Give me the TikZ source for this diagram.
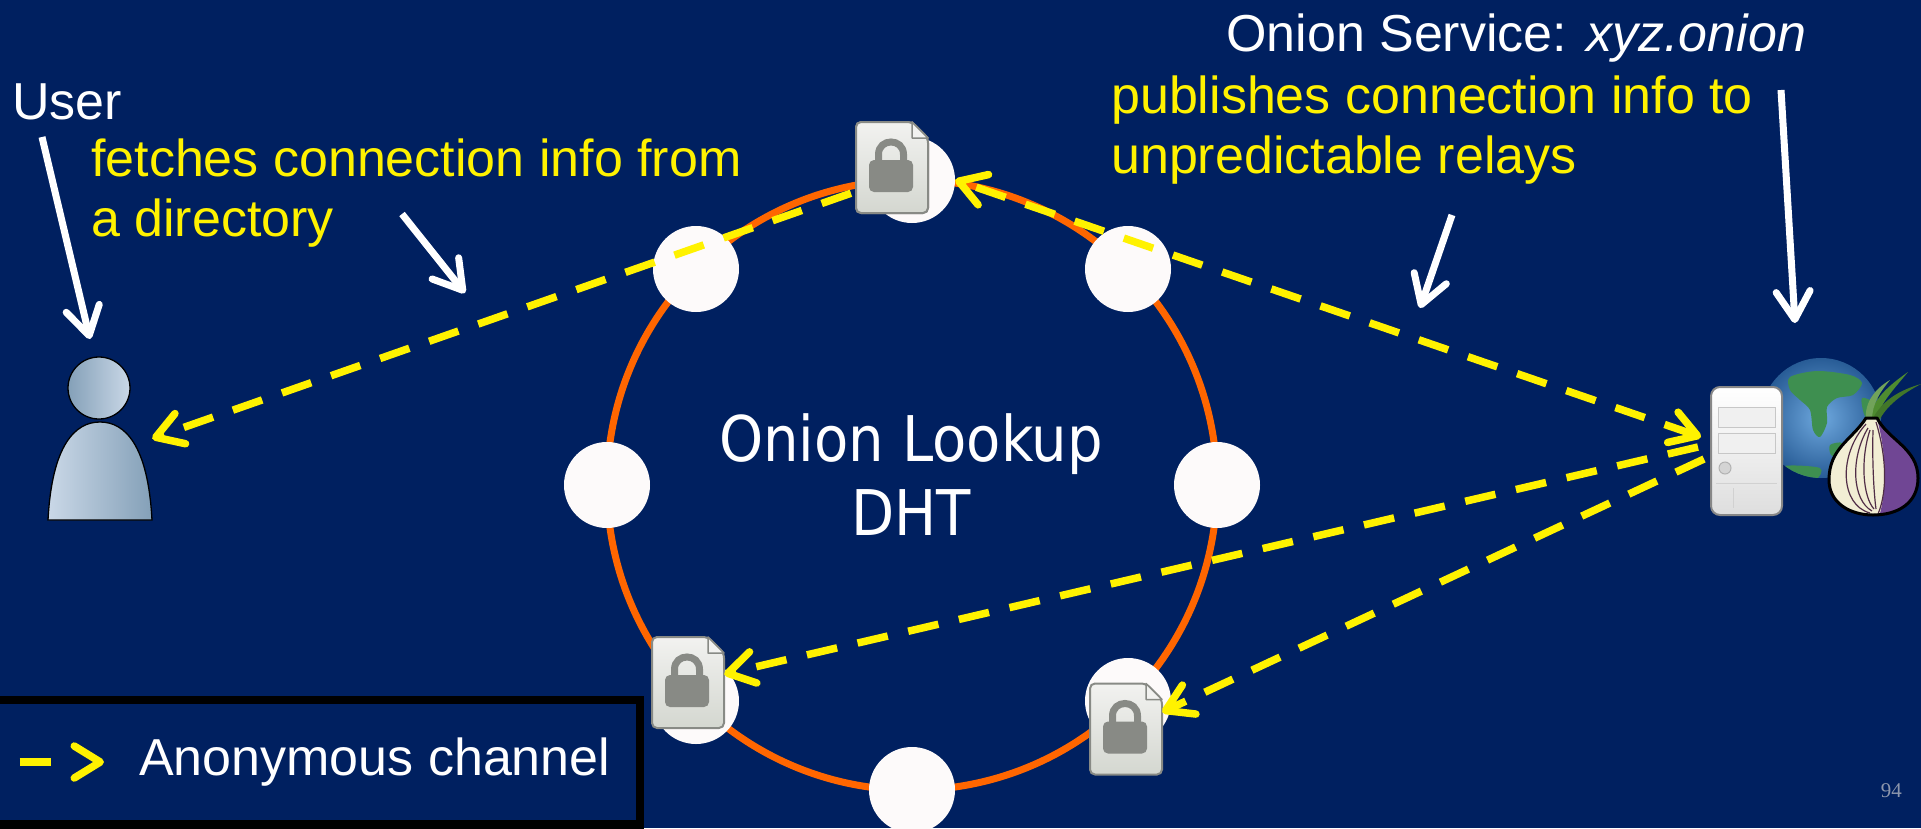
\documentclass[tikz,border=0pt]{standalone}
\usepackage{fontspec}
\setmainfont{Liberation Sans}
\newfontfamily\dhtfont[FakeStretch=0.89]{DejaVu Sans}
\newfontfamily\pagefont{Liberation Serif}
\usetikzlibrary{arrows.meta,calc}

\definecolor{slidebg}{RGB}{0,32,96}
\definecolor{ringorange}{RGB}{255,102,0}
\definecolor{relaywhite}{RGB}{253,250,250}
\definecolor{lockgray}{RGB}{136,138,133}
\definecolor{doclight}{RGB}{242,242,240}
\definecolor{docdark}{RGB}{212,215,208}
\definecolor{userlight}{RGB}{202,216,231}
\definecolor{userdark}{RGB}{132,160,184}
\definecolor{srvedge}{RGB}{135,135,135}
\definecolor{globeinner}{RGB}{110,168,222}
\definecolor{globeouter}{RGB}{40,92,150}
\definecolor{globegreen}{RGB}{62,143,80}
\definecolor{onioncream}{RGB}{242,238,212}
\definecolor{onionpurple}{RGB}{112,70,148}
\definecolor{onionline}{RGB}{80,45,70}
\definecolor{leafgreen}{RGB}{78,140,48}
\definecolor{pagegray}{RGB}{140,150,172}

\tikzset{
  relay/.style={circle, fill=relaywhite, minimum size=86pt, inner sep=0pt},
  >={Straight Barb[length=26pt,width=32pt,round]},
  chan/.style={yellow, line width=7.5pt, dash pattern=on 31pt off 21pt},
  pointer/.style={white, line width=7pt, -{Straight Barb[length=28pt,width=34pt,round]}},
  slidetext/.style={font=\fontsize{52}{60}\selectfont, inner sep=0pt, anchor=base west, text=white},
  notetext/.style={slidetext, text=yellow},
  dhttext/.style={font=\dhtfont\fontsize{63}{74}\selectfont, inner sep=0pt, anchor=base, text=white},
  lockdoc/.pic={
    \node[minimum width=72pt, minimum height=91pt, inner sep=0pt] (-box) {};
    % page with a folded top-right corner
    \draw[lockgray, line width=2pt, rounded corners=5pt, top color=doclight, bottom color=docdark]
      (-36,-45.5) -- (20,-45.5) -- (36,-29.5) -- (36,45.5) -- (-36,45.5) -- cycle;
    \draw[lockgray, line width=1.5pt, fill=doclight, line join=round]
      (20,-45.5) -- (20,-29.5) -- (36,-29.5) -- cycle;
    % padlock
    \draw[lockgray, line width=7pt]
      (-13.5,-5) -- (-13.5,-13) .. controls (-13.5,-29.7) and (11.5,-29.7) .. (11.5,-13) -- (11.5,-5);
    \fill[lockgray, rounded corners=5pt] (-23,-7.5) rectangle (21,24.5);
  }
}

\begin{document}
\begin{tikzpicture}[x=1pt,y=-1pt]
\useasboundingbox (0,0) rectangle (1921,828);
\fill[slidebg] (0,0) rectangle (1921,828);

% DHT ring with its relays
\coordinate (ringc) at (912,485);
\draw[ringorange, line width=7pt] (ringc) circle[radius=305pt];
\node[relay] (top) at ($(ringc)+(0,-305)$) {};
\node[relay] (ul)  at ($(ringc)+(-216,-216)$) {};
\node[relay] (ur)  at ($(ringc)+(216,-216)$) {};
\node[relay] (lft) at ($(ringc)+(-305,0)$) {};
\node[relay] (rgt) at ($(ringc)+(305,0)$) {};
\node[relay] (ll)  at ($(ringc)+(-216,216)$) {};
\node[relay] (lr)  at ($(ringc)+(216,216)$) {};
\node[relay] (bot) at ($(ringc)+(0,305)$) {};

\node[dhttext] (dht1) at (911,461) {Onion Lookup};
\node[dhttext] (dht2) at (911,535) {DHT};

% user
\node[minimum width=104pt, minimum height=163pt, inner sep=0pt] (user) at (100,438.5) {};
\draw[black, line width=1.3pt, left color=userlight, right color=userdark]
  (48,520) .. controls (52,445) and (75,422) .. (100,422)
  .. controls (125,422) and (148,445) .. (152,520) -- cycle;
\draw[black, line width=1.3pt, left color=userdark, right color=userlight]
  (99,388) circle[radius=31pt];

% onion service: globe, server, onion
\node[circle, minimum size=120pt, inner sep=0pt, inner color=globeinner, outer color=globeouter] (globe) at (1821,418) {};
\begin{scope}
  \clip (globe.center) circle[radius=60pt];
  \fill[globegreen] plot[smooth cycle] coordinates {(1790,377) (1817,371) (1850,375) (1862,383) (1853,395) (1837,398) (1827,407) (1827,423) (1820,437) (1813,430) (1810,410) (1800,400) (1790,390)};
  \fill[globegreen] plot[smooth cycle] coordinates {(1862,398) (1876,404) (1880,420) (1872,428) (1864,414)};
  \fill[globegreen] plot[smooth cycle] coordinates {(1785,466) (1820,468) (1815,480) (1790,478)};
  \fill[globegreen] plot[smooth cycle] coordinates {(1830,445) (1842,443) (1840,456) (1831,455)};
\end{scope}

\node[draw=srvedge, line width=2pt, rounded corners=9pt, top color=white, bottom color=black!13,
      minimum width=71pt, minimum height=128pt, inner sep=0pt] (server) at (1746.5,451) {};
\draw[black!22, fill=black!6, line width=1pt] (1718,407) rectangle (1775,427);
\draw[black!22, fill=black!6, line width=1pt] (1718,433) rectangle (1775,453);
\draw[black!30, fill=black!17, line width=1pt] (1725,468) circle[radius=6pt];
\draw[black!18, line width=1pt] (1716,483) -- (1777,483);
\draw[black!18, line width=1pt] (1733,488) -- (1733,508);

% onion
\fill[leafgreen] (1869,420) .. controls (1872,400) and (1888,386) .. (1908,372)
  .. controls (1893,390) and (1880,404) .. (1876,420) -- cycle;
\fill[leafgreen!85!black] (1872,420) .. controls (1882,400) and (1900,390) .. (1921,384)
  .. controls (1902,394) and (1886,406) .. (1879,421) -- cycle;
\fill[leafgreen!80!white] (1866,420) .. controls (1864,402) and (1876,388) .. (1890,380)
  .. controls (1880,392) and (1872,404) .. (1872,420) -- cycle;
\path[fill=onioncream] (1866,418) .. controls (1852,440) and (1829,448) .. (1829,480)
  .. controls (1829,503) and (1850,515) .. (1873,515)
  .. controls (1898,515) and (1918,503) .. (1918,478)
  .. controls (1918,448) and (1888,440) .. (1877,418) -- cycle;
\begin{scope}
  \clip (1866,418) .. controls (1852,440) and (1829,448) .. (1829,480)
    .. controls (1829,503) and (1850,515) .. (1873,515)
    .. controls (1898,515) and (1918,503) .. (1918,478)
    .. controls (1918,448) and (1888,440) .. (1877,418) -- cycle;
  \fill[onionpurple] (1876,415) .. controls (1886,450) and (1888,490) .. (1878,520) -- (1925,520) -- (1925,415) -- cycle;
  \draw[onionline, line width=1.2pt] (1866,424) .. controls (1838,455) and (1840,505) .. (1870,513);
  \draw[onionline, line width=1.2pt] (1868,428) .. controls (1850,458) and (1852,500) .. (1872,511);
  \draw[onionline, line width=1.2pt] (1870,430) .. controls (1860,460) and (1863,497) .. (1874,509);
  \draw[onionline, line width=1.2pt] (1873,430) .. controls (1872,462) and (1874,495) .. (1876,509);
  \draw[onionline, line width=1.2pt] (1876,422) .. controls (1886,455) and (1888,490) .. (1878,514);
\end{scope}
\draw[black, line width=3pt, line join=round] (1866,418) .. controls (1852,440) and (1829,448) .. (1829,480)
  .. controls (1829,503) and (1850,515) .. (1873,515)
  .. controls (1898,515) and (1918,503) .. (1918,478)
  .. controls (1918,448) and (1888,440) .. (1877,418) -- cycle;

% descriptors stored on the responsible relays (frames only, for the connectors)
\pic (tdoc) at (892,167.5) {lockdoc};
\pic (lldoc) at (688,682.5) {lockdoc};
\pic (lrdoc) at (1126,729) {lockdoc};

% anonymous channels
\coordinate (fetchsrc) at (900,176);
\draw[chan, ->] (fetchsrc) -- (user.east);
\draw[chan, <->] ([xshift=-9pt,yshift=14pt]server.west) -- (top.east);
\draw[chan, ->] ([xshift=-12pt,yshift=4pt]server.west) -- (lldoc-box);
\draw[chan, ->] ([xshift=-6pt,yshift=-8pt]server.west) -- (lrdoc-box);

% descriptors drawn again above the channels
\pic at (892,167.5) {lockdoc};

% labels and pointers
\node[slidetext] (userlbl) at (12,119) {User};
\node[notetext] (fetch1) at (91,176) {fetches connection info from};
\node[notetext] (fetch2) at (91,236) {a directory};
\node[slidetext] (svc) at (1226,51) {Onion Service: \textit{xyz.onion}};
\node[notetext] (pub1) at (1111,113) {publishes connection info to};
\node[notetext] (pub2) at (1111,173) {unpredictable relays};

\coordinate (userptA) at (42,137);
\coordinate (userptB) at (90,339);
\coordinate (fetchptA) at (402,214);
\coordinate (fetchptB) at (465,293);
\coordinate (pubptA) at (1452,215);
\coordinate (pubptB) at (1420,308);
\coordinate (svcptA) at (1781,90);
\coordinate (svcptB) at (1795,323);
\draw[pointer] (userptA) -- (userptB);
\draw[pointer] (fetchptA) -- (fetchptB);
\draw[pointer] (pubptA) -- (pubptB);
\draw[pointer] (svcptA) -- (svcptB);

% legend
\draw[black, line width=8.5pt, fill=slidebg] (-20,700) rectangle (640,824.5);
\coordinate (legA) at (19.5,762);
\coordinate (legB) at (104,762);
\draw[chan, ->, dash pattern=on 31pt off 100pt] (legA) -- (legB);
\node[slidetext] (legtxt) at (139,775) {Anonymous channel};

\node[font=\pagefont\fontsize{21}{24}\selectfont, text=pagegray, anchor=base east, inner sep=0pt] (pagenum) at (1902,797) {94};
\end{tikzpicture}
\end{document}
